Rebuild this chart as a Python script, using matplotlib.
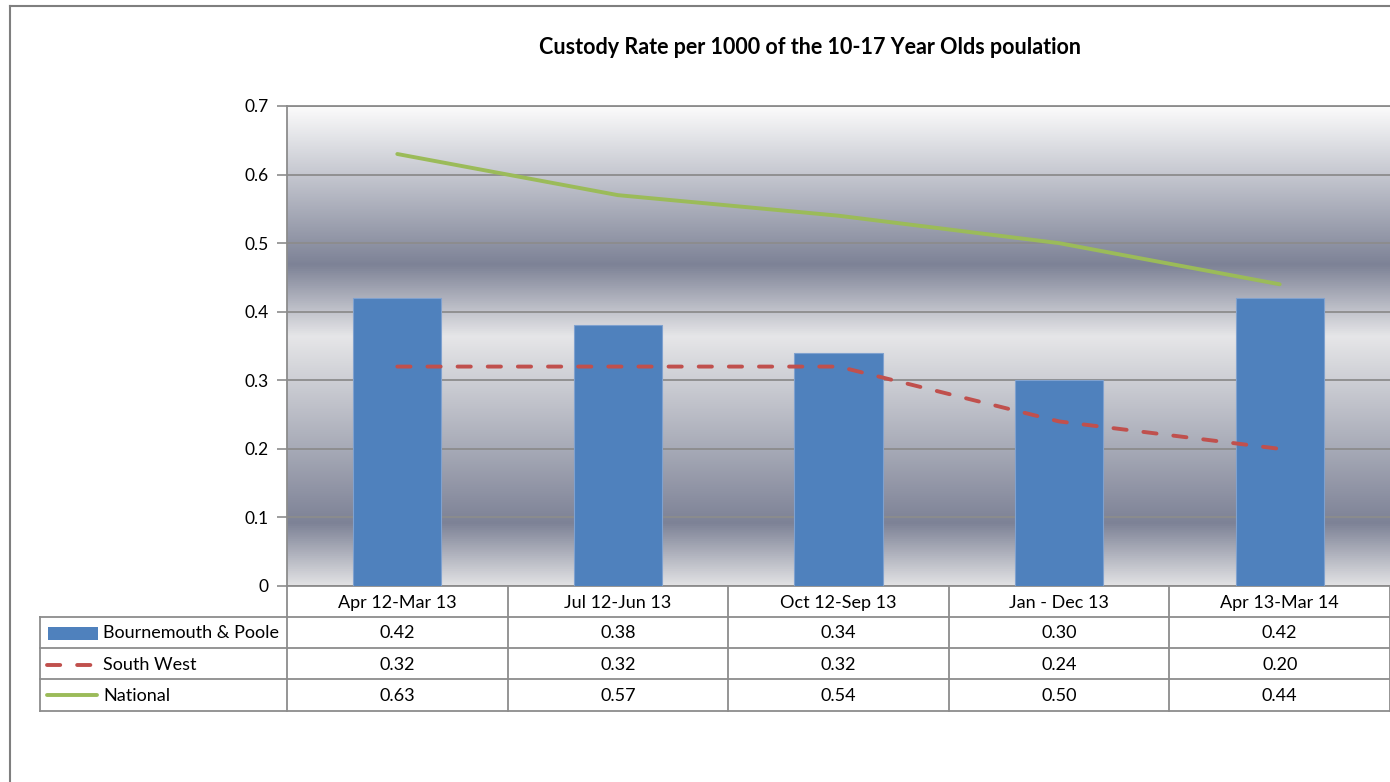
import numpy as np
import matplotlib
matplotlib.use("Agg")
import matplotlib.pyplot as plt
from matplotlib.colors import LinearSegmentedColormap
from matplotlib.transforms import blended_transform_factory
from matplotlib.lines import Line2D
from matplotlib.patches import Rectangle

plt.rcParams['font.family'] = ['Lato', 'DejaVu Sans']

categories = ['Apr 12-Mar 13', 'Jul 12-Jun 13', 'Oct 12-Sep 13', 'Jan - Dec 13', 'Apr 13-Mar 14']
bournemouth = [0.42, 0.38, 0.34, 0.30, 0.42]
south_west = [0.32, 0.32, 0.32, 0.24, 0.20]
national = [0.63, 0.57, 0.54, 0.50, 0.44]
series_names = ['Bournemouth & Poole', 'South West', 'National']

W, H = 1390, 782
fig = plt.figure(figsize=(W / 100, H / 100), dpi=100)

# outer chart border (cropped on right/bottom)
fig.add_artist(Line2D([10 / W, 10 / W], [0, 1 - 6 / H], transform=fig.transFigure, color='#7f7f7f', lw=1.5))
fig.add_artist(Line2D([10 / W, 1], [1 - 6 / H, 1 - 6 / H], transform=fig.transFigure, color='#7f7f7f', lw=1.5))

left, right, top, bottom = 287, 1390, 106, 586
ax = fig.add_axes([left / W, 1 - bottom / H, (right - left) / W, (bottom - top) / H])

# metallic background gradient
stops = [(0.0, '#fbfbfb'), (0.33, '#7d8296'), (0.48, '#e6e6e8'),
         (0.87, '#7d8296'), (1.0, '#e2e2e4')]
cmap = LinearSegmentedColormap.from_list('metal', stops)
grad = np.linspace(0, 1, 512).reshape(-1, 1)
ax.imshow(grad, cmap=cmap, aspect='auto', extent=[-0.5, 4.5, 0, 0.7],
          origin='upper', zorder=0, interpolation='bilinear')

lw = 2.8
dash = (3.4, 4.35)
x = np.arange(len(categories))
ax.bar(x, bournemouth, width=0.4, color='#4f81bd', edgecolor='#7fa1cf', linewidth=0.8, zorder=3)
ax.plot(x, south_west, color='#c0504d', lw=lw, dashes=dash, dash_capstyle='round', zorder=4)
ax.plot(x, national, color='#9bbb59', lw=lw, solid_capstyle='round', zorder=4)

ax.set_xlim(-0.5, 4.5)
ax.set_ylim(0, 0.7)
ax.set_yticks(np.arange(0, 0.71, 0.1))
ax.set_yticklabels(['0', '0.1', '0.2', '0.3', '0.4', '0.5', '0.6', '0.7'], fontsize=12.5)
ax.tick_params(axis='y', length=7, width=1.2, color='#8c8c8c', pad=6)
ax.set_xticks([])
ax.grid(axis='y', color='#8c8c8c', lw=1.3, zorder=1)
ax.set_axisbelow(False)
ax.spines['right'].set_visible(False)
for s in ['left', 'top', 'bottom']:
    ax.spines[s].set_color('#8c8c8c')
    ax.spines[s].set_linewidth(1.3)

fig.text(810 / W, 1 - 47 / H, 'Custody Rate per 1000 of the 10-17 Year Olds poulation',
         ha='center', va='center', fontsize=15.5, fontweight='bold')

# data table
tr = blended_transform_factory(ax.transData, fig.transFigure)
fy = lambda py: 1 - py / H
fx = lambda px: px / W
row_y = [586, 617, 648, 679, 711]
gc = '#8c8c8c'
for yy in row_y[1:]:
    fig.add_artist(Line2D([fx(40), 1], [fy(yy), fy(yy)], transform=fig.transFigure, color=gc, lw=1.3))
fig.add_artist(Line2D([fx(40), fx(40)], [fy(617), fy(711)], transform=fig.transFigure, color=gc, lw=1.3))
for b in np.arange(-0.5, len(categories), 1.0):
    fig.add_artist(Line2D([b, b], [fy(586), fy(711)], transform=tr, color=gc, lw=1.3))

fs = 13
for i, c in enumerate(categories):
    fig.text(i, fy(603), c, transform=tr, ha='center', va='center', fontsize=fs)
for r, vals in enumerate([bournemouth, south_west, national]):
    yc = fy((row_y[r + 1] + row_y[r + 2]) / 2 + 1)
    for i, v in enumerate(vals):
        fig.text(i, yc, f'{v:.2f}', transform=tr, ha='center', va='center', fontsize=fs)
    fig.text(fx(103), yc, series_names[r], ha='left', va='center', fontsize=fs)

# legend keys
fig.add_artist(Rectangle((fx(48), fy(640)), fx(50), 13 / H, transform=fig.transFigure,
                         facecolor='#4f81bd', edgecolor='none'))
fig.add_artist(Line2D([fx(47), fx(94)], [fy(665), fy(665)], transform=fig.transFigure,
                      color='#c0504d', lw=lw, dashes=dash, dash_capstyle='round'))
fig.add_artist(Line2D([fx(47), fx(97)], [fy(695), fy(695)], transform=fig.transFigure,
                      color='#9bbb59', lw=lw, solid_capstyle='round'))

fig.savefig('out.png', dpi=100)
